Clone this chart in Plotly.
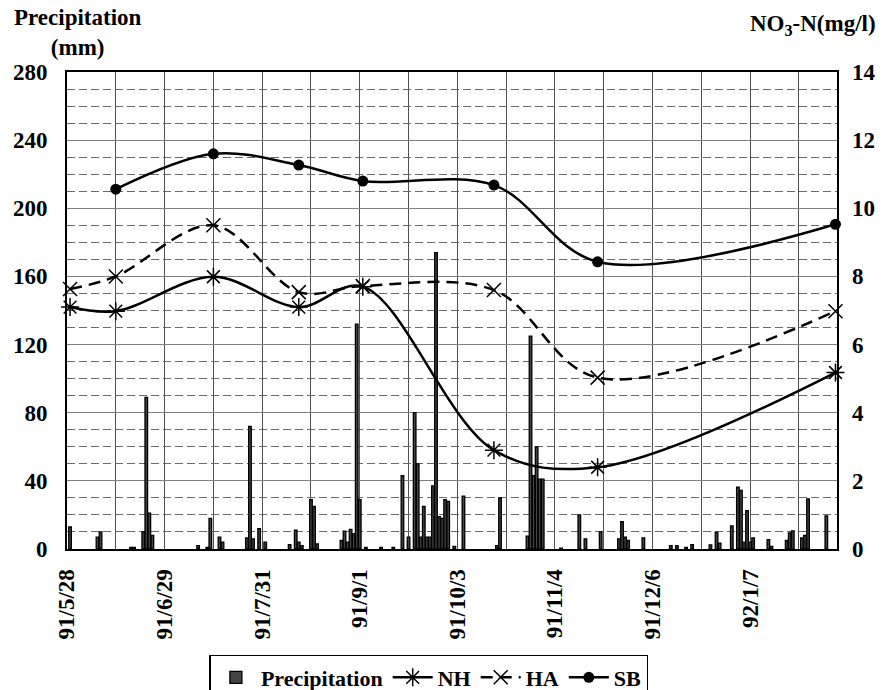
import plotly.graph_objects as go
import pandas as pd

# ---- data ----
start_date = "1991-05-28"
end_date = "1992-02-04 12:00"
# daily precipitation (mm): day number after 1991/5/28 and amount
precip_day = [1, 10, 11, 21, 22, 25, 26, 27, 28, 43, 46, 47, 50, 51, 59, 60, 61, 63, 65,
              73, 75, 76, 77, 80, 81, 82, 90, 91, 92, 93, 94, 95, 96, 98, 103, 107,
              110, 112, 114, 115, 116, 117, 118, 119, 120, 121, 122, 123, 124, 125, 127, 130,
              141, 142, 151, 152, 153, 154, 155, 156, 162, 168, 170, 175, 181, 182, 183, 184,
              189, 198, 200, 203, 205, 211, 213, 214, 218, 220, 221, 222, 223, 224, 225,
              230, 231, 236, 237, 238, 241, 242, 243, 249]
precip_mm = [13, 7, 10, 1, 1, 10, 89, 21, 8, 2, 1, 18, 7, 4, 6.5, 72, 6, 12, 4,
             2.5, 11, 4, 2, 29, 25, 3, 5, 10.5, 4, 11.5, 9, 132, 29, 1, 1, 1,
             43, 7, 80, 50, 7, 25, 7, 7, 37, 174, 19, 18, 29, 28, 1.5, 31,
             2, 30, 7.5, 125, 43, 60, 41, 41, 0.5, 20, 6, 10, 6, 16, 7, 5,
             6.5, 2, 2, 1, 2.5, 2.4, 9.7, 3.5, 13.6, 36.3, 34.4, 4, 22.5, 4, 6.5,
             5.5, 1.5, 5, 9.4, 10.6, 6.5, 8, 29.4, 19.5]

sample_dates = ["1991-05-29", "1991-06-13", "1991-07-15", "1991-08-12",
                "1991-09-02", "1991-10-15", "1991-11-18", "1992-02-04"]
nh = [7.1, 6.98, 7.99, 7.1, 7.7, 2.9, 2.4, 5.18]
ha = [7.63, 8.0, 9.5, 7.54, 7.72, 7.6, 5.03, 6.98]
sb = [None, 10.56, 11.6, 11.27, 10.8, 10.68, 8.43, 9.53]

tick_dates = ["1991-05-28", "1991-06-29", "1991-07-31", "1991-09-01",
              "1991-10-03", "1991-11-04", "1991-12-06", "1992-01-07"]
tick_labels = ["91/5/28", "91/6/29", "91/7/31", "91/9/1",
               "91/10/3", "91/11/4", "91/12/6", "92/1/7"]

precip_dates = (pd.Timestamp(start_date) + pd.to_timedelta(precip_day, unit="D")).strftime("%Y-%m-%d").tolist()

DAY_MS = 86400000
FONT = "Liberation Serif"
FS = 23

fig = go.Figure()
fig.add_trace(go.Bar(
    x=precip_dates, y=precip_mm, name="Precipitation",
    marker=dict(color="#444444", line=dict(color="black", width=1.3)),
    width=DAY_MS * 0.85, yaxis="y"))
fig.add_trace(go.Scatter(
    x=sample_dates, y=nh, name="NH", mode="lines+markers", yaxis="y2", cliponaxis=False,
    line=dict(color="black", width=2.5, shape="spline"),
    marker=dict(symbol="asterisk-open", size=15, color="black", line=dict(color="black", width=1.5))))
fig.add_trace(go.Scatter(
    x=sample_dates, y=ha, name="HA", mode="lines+markers", yaxis="y2", cliponaxis=False,
    line=dict(color="black", width=2.5, dash="12px,7px", shape="spline"),
    marker=dict(symbol="x-thin-open", size=14, color="black", line=dict(color="black", width=1.5))))
fig.add_trace(go.Scatter(
    x=sample_dates, y=sb, name="SB", mode="lines+markers", yaxis="y2", cliponaxis=False,
    line=dict(color="black", width=2.5, shape="spline"),
    marker=dict(symbol="circle", size=11, color="black")))

fig.update_layout(
    template="none",
    width=892, height=690,
    margin=dict(l=67, r=55, t=72, b=141, autoexpand=False),
    paper_bgcolor="white", plot_bgcolor="white",
    font=dict(family=FONT, size=FS, color="black", weight="bold"),
    showlegend=True, hovermode=False,
    legend=dict(orientation="h", x=0.47, xanchor="center", y=-0.2222, yanchor="top",
                bordercolor="black", borderwidth=1.5, bgcolor="white",
                font=dict(family=FONT, size=22, color="black", weight="bold"),
                itemwidth=40, tracegroupgap=0),
    xaxis=dict(
        type="date", range=[start_date, end_date], automargin=False,
        tickmode="array", tickvals=tick_dates, ticktext=tick_labels, tickangle=-90,
        showgrid=True, gridcolor="#505050", gridwidth=1.2,
        minor=dict(tick0=start_date, dtick=16 * DAY_MS, showgrid=True, gridcolor="#505050", gridwidth=1.2),
        showline=True, linecolor="black", linewidth=2, mirror=True,
        ticks="", ticklabelstandoff=9,
        tickfont=dict(family=FONT, size=FS, weight="bold")),
    yaxis=dict(
        range=[0, 280], tick0=0, dtick=40, automargin=False,
        showgrid=True, gridcolor="#808080", gridwidth=1.2,
        minor=dict(dtick=10, showgrid=True, griddash="8px,4px", gridcolor="#6a6a6a", gridwidth=1.2),
        showline=True, linecolor="black", linewidth=2, mirror=True,
        ticks="", ticklabelstandoff=13, zeroline=False,
        tickfont=dict(family=FONT, size=FS, weight="bold")),
    yaxis2=dict(
        overlaying="y", side="right", range=[0, 14], tick0=0, dtick=2, automargin=False,
        showgrid=False, zeroline=False, showline=False,
        ticks="", ticklabelstandoff=14,
        tickfont=dict(family=FONT, size=FS, weight="bold")),
    annotations=[
        dict(text="Precipitation<br>(mm)", xref="paper", yref="paper",
             x=0.0143, y=1.1447, xanchor="center", yanchor="top", showarrow=False, align="center",
             font=dict(family=FONT, size=FS, weight="bold")),
        dict(text="NO<sub>3</sub>-N(mg/l)", xref="paper", yref="paper",
             x=1.053, y=1.098, xanchor="right", yanchor="middle", showarrow=False,
             font=dict(family=FONT, size=FS, weight="bold")),
    ],
)

fig.write_html("out.html", config={"displayModeBar": False},
               post_script="document.body.style.margin='0';document.body.style.overflow='hidden';")
